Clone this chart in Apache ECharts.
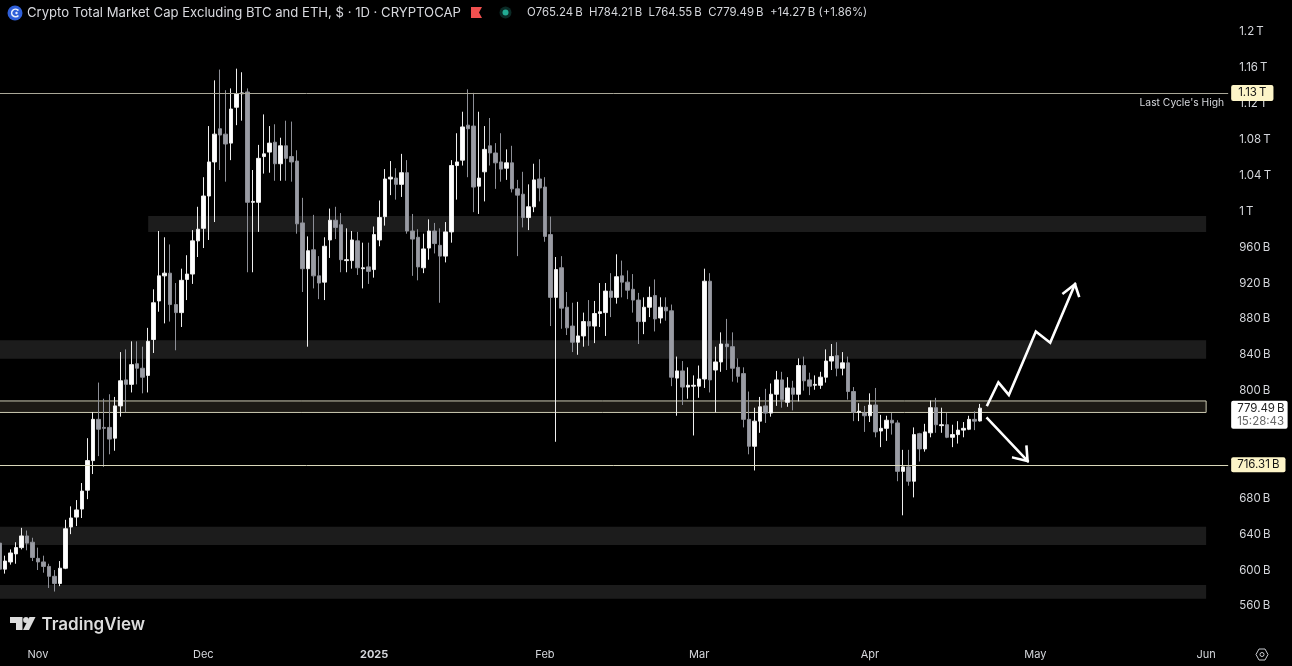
<!DOCTYPE html>
<html><head><meta charset="utf-8">
<style>html,body{margin:0;padding:0;background:#000}#c{width:1292px;height:666px}</style>
<script src="https://cdn.jsdelivr.net/npm/echarts@6/dist/echarts.min.js"></script>
</head><body><div id="c"></div>
<script>
const firstDate = '2024-10-25';
const dayCount = 224;
const monthLabels = {'2024-11-01':'Nov','2024-12-01':'Dec','2025-01-01':'2025','2025-02-01':'Feb','2025-03-01':'Mar','2025-04-01':'Apr','2025-05-01':'May','2025-06-01':'Jun'};
const opens = [629,600,608,617,624,637,630,612,608,603,592,584,601,647,658,667,688,721,767,758,758,746,782,811,806,829,824,816,856,899,927,930,895,886,923,929,966,980,1016,1054,1091,1085,1075,1115,1130,1132,1009,1009,1060,1065,1076,1052,1072,1060,1055,986,935,956,927,920,967,989,984,944,944,966,935,937,934,967,993,1035,1036,1029,1042,977,970,936,958,977,961,949,976,1050,1056,1095,1094,1027,1043,1072,1064,1054,1047,1053,1024,1018,992,1004,1035,1026,973,903,936,892,871,853,860,876,871,885,886,910,903,927,920,912,900,876,892,905,880,892,888,813,821,803,804,804,812,921,822,831,851,848,825,818,767,737,765,782,774,795,811,786,802,795,827,811,805,805,814,832,838,824,830,798,775,774,771,783,754,757,766,763,709,714,698,751,734,752,780,760,761,747,750,755,756,767,765.24];
const highs = [633,615,622,630,646,643,635,624,615,606,599,609,655,670,677,696,746,775,808,790,795,792,842,845,854,854,848,869,912,977,970,962,919,935,950,978,1004,1037,1094,1145,1157,1134,1136,1158,1154,1136,1045,1073,1107,1094,1096,1081,1100,1099,1067,1014,971,995,949,970,1002,1004,997,980,977,976,964,964,982,1011,1046,1055,1047,1063,1056,996,979,974,990,986,980,987,1056,1086,1110,1135,1131,1110,1094,1103,1075,1086,1068,1072,1034,1043,1029,1052,1057,1037,993,948,949,909,897,898,886,900,899,919,919,930,951,944,933,929,908,903,915,923,903,903,895,837,832,825,816,827,935,930,848,864,879,864,835,825,798,780,792,801,807,821,820,814,810,835,837,819,816,820,845,851,853,842,837,803,785,782,796,802,772,771,774,766,733,733,758,752,762,788,791,780,774,761,765,764,771,776,784.21];
const lows = [586,595,605,606,622,621,609,599,596,579,575,581,600,639,648,657,678,706,726,714,728,732,770,775,797,806,796,797,841,887,874,876,844,870,900,918,948,958,967,987,1045,1032,1056,1095,1100,931,931,976,1041,1042,1033,1033,1033,1032,974,909,848,913,901,900,947,968,931,931,935,928,913,918,925,960,983,1017,1012,1015,974,927,922,930,945,952,897,942,964,1012,1050,1037,998,996,1010,1050,1024,1032,1034,1020,949,981,978,998,1010,965,871,742,868,861,842,839,848,849,852,870,860,881,896,903,901,886,851,862,881,865,874,877,804,771,783,790,749,791,802,797,775,820,822,809,808,758,728,710,752,763,770,782,780,781,777,787,799,794,800,801,808,822,815,816,789,765,765,753,764,747,736,743,750,698,660,693,680,720,731,747,752,752,746,736,740,747,755,755,764.55];
const closes = [600,609,618,624,637,629,613,608,603,592,584,601,645,657,666,687,721,767,756,757,745,782,810,806,828,824,814,854,897,927,930,895,886,922,929,966,979,1016,1054,1085,1084,1074,1113,1130,1131,1009,1010,1058,1063,1075,1052,1072,1058,1054,985,935,955,927,919,960,989,981,945,945,967,936,936,932,973,992,1035,1037,1029,1042,977,968,937,957,977,963,949,976,1050,1054,1093,1091,1026,1036,1068,1064,1053,1046,1053,1024,1017,992,1004,1034,1025,971,903,934,891,869,853,860,876,871,885,887,910,903,926,920,911,900,876,892,903,879,892,888,814,821,803,805,805,812,921,811,831,851,848,824,815,767,737,765,781,774,795,811,789,802,795,827,810,804,806,814,832,837,824,830,798,775,776,771,783,753,757,766,763,709,714,698,750,734,753,780,761,761,747,750,755,757,767,765,779.49];
const zoneLevels = [[993.8,975.9,'2024-11-21'],[855.2,834.6,null],[647.3,627,null],[582.4,567,null]];
const boxedZone = [787.5,774.7];
const levelHigh = 1131;
const levelLow = 716.31;
const lastClose = 779.49;
const hiddenTicks = [720,760];
const arrowPaths = [
  [[172.3,783],[174.3,808.3],[176.2,794.2],[181.1,865],[183.7,852.5],[188.2,917.6]],
  [[186.1,907.6],[188.2,917.6],[188.9,904.6]],
  [[172.3,768.2],[179.6,720.6]],
  [[177,724.3],[179.6,720.6],[179.4,736.5]]
];
const categories = [];
{ const d = new Date(firstDate+'T00:00:00Z');
  for (let i=0;i<dayCount;i++){ categories.push(d.toISOString().slice(0,10)); d.setUTCDate(d.getUTCDate()+1);} }
const UI = 'Inter, "Liberation Sans", sans-serif';
const TXT = '#d5d7dc';
const fmtPrice = v => hiddenTicks.includes(v) ? '' : '{a|'+(v>=1000 ? (v/1000)+'\u2009T' : v+'\u2009B')+'}';
const candleData = opens.map((o,i)=>[o,closes[i],lows[i],highs[i]]);
const endDay = '2025-06-01';
const zoneData = zoneLevels.map(z=>[
  {xAxis:z[2]||categories[0], yAxis:z[0], itemStyle:{color:'#1c1c1c',borderWidth:0}},
  {xAxis:endDay, yAxis:z[1]}
]);
zoneData.push([
  {xAxis:categories[0], yAxis:boxedZone[0], itemStyle:{color:'#1d1a15',opacity:1,borderColor:'#cfccb4',borderWidth:1}},
  {xAxis:endDay, yAxis:boxedZone[1]}
]);
const hiddenLine = {color:'rgba(0,0,0,0)',width:1};
const priceBox = {position:'end',distance:3,color:'#131313',backgroundColor:'#fdf5c8',borderRadius:2,padding:[2,6,1,6],fontFamily:UI,fontSize:11.5};
const chart = echarts.init(document.getElementById('c'),null,{renderer:'canvas'});
chart.setOption({
  animation:false, backgroundColor:'#000',
  grid:{left:-0.57,width:1228.73,top:-4.875,height:645.75,containLabel:false,outerBoundsMode:'none'},
  xAxis:[{type:'category',data:categories,boundaryGap:false,
    axisLine:{show:false},axisTick:{show:false},splitLine:{show:false},
    axisLabel:{margin:8,hideOverlap:false,interval:(i,v)=>v in monthLabels,
      formatter:v=>monthLabels[v]==='2025'?'{y|2025}':(monthLabels[v]||''),
      color:TXT,fontFamily:UI,fontSize:11,rich:{y:{fontFamily:UI,fontSize:11,fontWeight:700,color:TXT}}}},
    {type:'value',min:-7,max:216,show:false,splitLine:{show:false}}],
  yAxis:{type:'value',position:'right',min:520,max:1240,interval:40,
    axisLine:{show:false},axisTick:{show:false},splitLine:{show:false},
    axisLabel:{margin:11,align:'left',showMinLabel:false,showMaxLabel:false,color:TXT,fontFamily:UI,fontSize:11.5,formatter:fmtPrice,
      rich:{a:{color:TXT,fontFamily:UI,fontSize:11.5,padding:[2,0,0,0]}}}},
  series:[
    {type:'candlestick',name:'Candles',data:candleData,barWidth:4,clip:true,z:3,
      itemStyle:{color:'#ffffff',color0:'#9a9ca4',borderColor:'#eeeeee',borderColor0:'#8d8f97',borderWidth:1},
      markArea:{silent:true,z:1,data:zoneData},
      markLine:{silent:true,symbol:'none',z:5,animation:false,precision:2,data:[
        {yAxis:levelHigh,lineStyle:{color:'#a9a798',width:1,type:'solid'},label:{...priceBox,padding:[3,7,1,7],formatter:'1.13\u2009T'}},
        {yAxis:levelHigh,lineStyle:hiddenLine,label:{position:'insideEndBottom',distance:[4,5],color:TXT,fontFamily:UI,fontSize:10.3,formatter:"Last Cycle's High"}},
        {yAxis:levelLow,lineStyle:{color:'#d9d7ba',width:1,type:'solid'},label:{...priceBox,formatter:'716.31\u2009B'}},
        {yAxis:lastClose,lineStyle:hiddenLine,label:{position:'end',distance:3,offset:[0,6.5],backgroundColor:'#ffffff',borderRadius:2,padding:[2,3,1,6],lineHeight:12.5,
          formatter:'{p|779.49\u2009B}\n{t|15:28:43}',rich:{p:{color:'#222',fontFamily:UI,fontSize:11.5,lineHeight:12.5},t:{color:'#666',fontFamily:UI,fontSize:11.5,lineHeight:12.5}}}}
      ]}},
    ...arrowPaths.map(p=>({type:'line',xAxisIndex:1,yAxisIndex:0,data:p,showSymbol:false,symbol:'none',smooth:false,z:6,clip:false,silent:true,
      lineStyle:{color:'#ffffff',width:2.6,cap:'square',join:'miter'}}))
  ],
  graphic:[
    {type:'circle',shape:{cx:15,cy:13,r:7.5},style:{fill:'#2f5fd8'},silent:true},
    {type:'arc',shape:{cx:15.5,cy:13,r:3.8,startAngle:0.7,endAngle:5.6},style:{stroke:'#e8eefc',fill:'none',lineWidth:1.6},silent:true},
    {type:'circle',shape:{cx:16.5,cy:13,r:1.2},style:{fill:'#e8eefc'},silent:true},
    {type:'text',x:27,y:13.5,style:{text:'Crypto Total Market Cap Excluding BTC and ETH, $ \u00b7 1D \u00b7 CRYPTOCAP',fill:'#d8d9de',font:'13.12px '+UI,textVerticalAlign:'middle'},silent:true},
    {type:'polygon',shape:{points:[[471,7],[482,7],[479,12.5],[482,18],[471,18]]},style:{fill:'#f0504f'},silent:true},
    {type:'circle',shape:{cx:505.5,cy:12.5,r:6},style:{fill:'#0b2a26'},silent:true},
    {type:'circle',shape:{cx:505.5,cy:12.5,r:3},style:{fill:'#22ab94'},silent:true},
    {type:'text',x:527,y:13,style:{text:'O765.24\u2009B  H784.21\u2009B  L764.55\u2009B  C779.49\u2009B  +14.27\u2009B (+1.86%)',fill:TXT,font:'11.4px '+UI,textVerticalAlign:'middle'},silent:true},
    {type:'polygon',shape:{points:[[10,617],[22.5,617],[22.5,630],[16,630],[16,623],[10,623]]},style:{fill:'#dcdcdc'},silent:true},
    {type:'circle',shape:{cx:26,cy:620,r:2.9},style:{fill:'#dcdcdc'},silent:true},
    {type:'polygon',shape:{points:[[29.5,617],[35.5,617],[29,630],[23,630]]},style:{fill:'#dcdcdc'},silent:true},
    {type:'text',x:41.5,y:625,style:{text:'TradingView',fill:'#dcdcdc',font:'600 17px '+UI,textVerticalAlign:'middle'},silent:true},
    {type:'polygon',shape:{points:[[1256,654.5],[1259,649],[1265,649],[1268,654.5],[1265,660],[1259,660]]},style:{fill:'none',stroke:'#c9cbd0',lineWidth:1},silent:true},
    {type:'circle',shape:{cx:1262,cy:654.5,r:2},style:{fill:'none',stroke:'#c9cbd0',lineWidth:1},silent:true}
  ]
});
</script></body></html>
